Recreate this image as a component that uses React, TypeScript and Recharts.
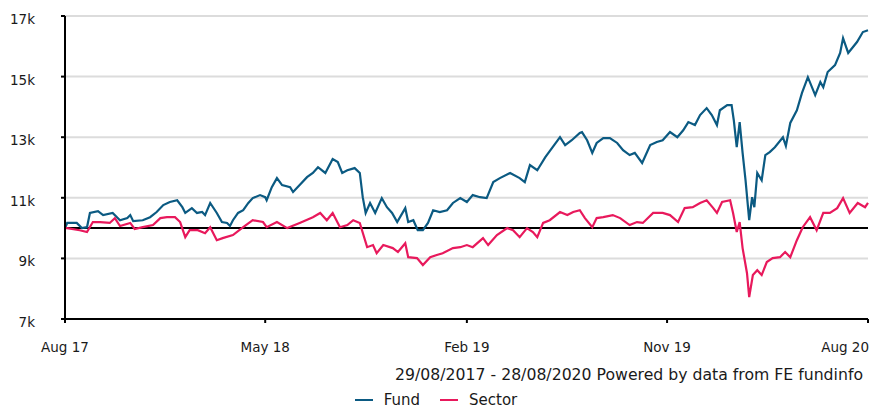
import React from "react";
import { LineChart, Line, XAxis, YAxis, CartesianGrid, ReferenceLine, Legend } from "recharts";

// days since 29/08/2017, values = growth of 10,000
const fundDays = [
  0, 3, 16, 23, 30, 34, 45, 52, 65, 75, 85, 89, 93, 106, 116, 125, 134, 143, 153, 160,
  164, 173, 180, 187, 191, 198, 207, 214, 221, 225, 229, 236, 243, 250, 256, 266, 273, 275, 282, 289,
  296, 307, 311, 320, 330, 338, 345, 355, 365, 372, 378, 385, 395, 402, 406, 410, 416, 423, 432, 439,
  446, 453, 464, 468, 475, 481, 488, 495, 502, 511, 521, 529, 539, 548, 556, 566, 575, 584, 593, 607,
  620, 627, 634, 644, 655, 665, 675, 682, 691, 702, 705, 712, 719, 725, 734, 743, 753, 761, 770, 777,
  787, 798, 807, 815, 825, 835, 843, 850, 859, 866, 875, 882, 889, 893, 903, 909, 912, 916, 920, 924,
  928, 933, 937, 940, 944, 950, 955, 961, 968, 979, 983, 989, 998, 1005, 1013, 1023, 1030, 1034, 1040, 1050,
  1057, 1061, 1068, 1080, 1088, 1095,
];
const fundValues = [
  10000, 10170, 10170, 10000, 10030, 10500, 10560, 10430, 10500, 10260, 10330, 10430, 10230, 10260, 10360, 10530, 10760, 10860, 10920, 10690,
  10500, 10660, 10500, 10530, 10430, 10830, 10500, 10200, 10170, 10070, 10260, 10500, 10590, 10830, 10990, 11090, 11020, 10920, 11350, 11650,
  11420, 11350, 11190, 11420, 11680, 11820, 12010, 11820, 12280, 12180, 11820, 11910, 11980, 11820, 11020, 10500, 10830, 10500, 10990, 10690,
  10500, 10200, 10660, 10200, 10260, 9930, 9930, 10170, 10590, 10530, 10590, 10830, 10990, 10860, 11090, 11020, 10990, 11520, 11650, 11820,
  11650, 11520, 12080, 11910, 12340, 12670, 13000, 12740, 12900, 13140, 13170, 12900, 12480, 12810, 12970, 12970, 12810, 12570, 12410, 12480,
  12150, 12740, 12840, 12900, 13170, 13000, 13230, 13500, 13400, 13730, 13960, 13730, 13400, 13890, 14060, 14060, 13560, 12670, 13500, 12480,
  11580, 10260, 11020, 10690, 11820, 11580, 12410, 12510, 12670, 13000, 12710, 13470, 13890, 14460, 14980, 14390, 14820, 14650, 15150, 15380,
  15780, 16270, 15780, 16140, 16470, 16530,
];

const sectorDays = [
  0, 3, 20, 30, 38, 48, 61, 68, 75, 89, 95, 106, 120, 130, 139, 150, 157, 164, 170, 181,
  191, 198, 207, 215, 229, 243, 256, 270, 275, 289, 303, 320, 338, 348, 357, 365, 375, 385, 393, 402,
  412, 420, 425, 434, 447, 454, 464, 468, 480, 488, 498, 507, 515, 529, 539, 548, 556, 570, 577, 589,
  603, 611, 620, 630, 638, 644, 652, 661, 675, 685, 693, 702, 709, 719, 725, 734, 747, 757, 770, 780,
  788, 802, 815, 825, 836, 845, 856, 866, 875, 884, 889, 896, 907, 911, 916, 920, 924, 930, 933, 938,
  944, 950, 957, 965, 975, 982, 989, 998, 1006, 1016, 1025, 1034, 1043, 1053, 1061, 1070, 1081, 1091, 1095,
];
const sectorValues = [
  10000, 10000, 9930, 9870, 10200, 10200, 10170, 10330, 10070, 10170, 9970, 10030, 10100, 10330, 10360, 10360, 10200, 9700, 9930, 9930,
  9830, 10030, 9600, 9670, 9770, 10030, 10260, 10200, 10030, 10200, 10000, 10170, 10360, 10500, 10260, 10500, 10030, 10100, 10260, 10170,
  9370, 9440, 9170, 9440, 9340, 9210, 9500, 9040, 9010, 8780, 9040, 9110, 9170, 9340, 9370, 9440, 9370, 9670, 9440, 9770,
  10000, 9930, 9700, 10000, 9870, 9700, 10170, 10260, 10530, 10430, 10530, 10590, 10330, 10030, 10330, 10360, 10430, 10330, 10100, 10200,
  10170, 10500, 10500, 10430, 10200, 10660, 10690, 10830, 10920, 10660, 10500, 10860, 10920, 10500, 9870, 10200, 9340, 8510, 7720, 8450,
  8610, 8450, 8880, 9010, 9040, 9210, 9040, 9600, 10030, 10360, 9930, 10500, 10500, 10660, 10990, 10500, 10830, 10690, 10830,
];

const xTickDays = [0, 273, 548, 821, 1095];
const xTickLabels = ["Aug 17", "May 18", "Feb 19", "Nov 19", "Aug 20"];
const yTicks = [7000, 9000, 11000, 13000, 15000, 17000];

const caption = "29/08/2017 - 28/08/2020 Powered by data from FE fundinfo";

const FUND = "#0b5a82";
const SECTOR = "#e8195c";
const FONT = "'DejaVu Sans', sans-serif";
const INK = "#1a1a1a";

const fundData = fundDays.map((d, i) => ({ day: d, value: fundValues[i] }));
const sectorData = sectorDays.map((d, i) => ({ day: d, value: sectorValues[i] }));

function XTick(props: any) {
  const { x, y, payload, index } = props;
  const last = index === xTickDays.length - 1;
  const label = xTickLabels[xTickDays.indexOf(payload.value)];
  return (
    <text x={last ? x + 1 : x} y={y} dy="0.71em" textAnchor={last ? "end" : "middle"}
      fill={INK} fontSize={13.5} fontFamily={FONT}>
      {label}
    </text>
  );
}

function YTick(props: any) {
  const { x, y, payload } = props;
  return (
    <text x={x} y={y} dy={8} textAnchor="end" fill={INK} fontSize={13.5} fontFamily={FONT}>
      {payload.value / 1000 + "k"}
    </text>
  );
}

function LegendBox() {
  const items = [
    { name: "Fund", color: FUND },
    { name: "Sector", color: SECTOR },
  ];
  return (
    <div style={{ width: 870, fontFamily: FONT, fontSize: 15, color: INK }}>
      <div style={{ height: 30, lineHeight: "30px", textAlign: "right", paddingRight: 7, fontSize: 15.7 }}>{caption}</div>
      <div style={{ height: 20, display: "flex", justifyContent: "center", alignItems: "center", gap: 20, paddingLeft: 2 }}>
        {items.map((it) => (
          <div key={it.name} style={{ display: "flex", alignItems: "center" }}>
            <span style={{ display: "inline-block", width: 18, height: 2, background: it.color, marginRight: 11 }} />
            <span>{it.name}</span>
          </div>
        ))}
      </div>
    </div>
  );
}

export default function App() {
  return (
    <div style={{ position: "absolute", left: 0, top: 0, width: 870, height: 410, background: "#fff" }}>
      <LineChart width={870} height={410} margin={{ top: 16, right: 2, left: 0, bottom: 0 }}>
        <CartesianGrid vertical={false} stroke="#dcdcdc" strokeWidth={2} />
        <XAxis
          dataKey="day"
          type="number"
          domain={[0, 1095]}
          ticks={xTickDays}
          interval={0}
          height={41}
          tickSize={4}
          tickMargin={19}
          stroke="#000"
          strokeWidth={2}
          tick={<XTick />}
          allowDuplicatedCategory={false}
        />
        <YAxis
          type="number"
          domain={[7000, 17000]}
          ticks={yTicks}
          width={65}
          tickSize={4}
          tickMargin={26}
          stroke="#000"
          strokeWidth={2}
          tick={<YTick />}
        />
        <ReferenceLine y={10000} stroke="#000" strokeWidth={2} />
        <Line data={fundData} dataKey="value" name="Fund" type="linear" stroke={FUND} strokeWidth={2.2}
          dot={false} isAnimationActive={false} />
        <Line data={sectorData} dataKey="value" name="Sector" type="linear" stroke={SECTOR} strokeWidth={2.2}
          dot={false} isAnimationActive={false} />
        <Legend verticalAlign="bottom" align="center" content={<LegendBox />}
          wrapperStyle={{ width: 870, height: 50, left: 0, bottom: 0 }} />
      </LineChart>
    </div>
  );
}
